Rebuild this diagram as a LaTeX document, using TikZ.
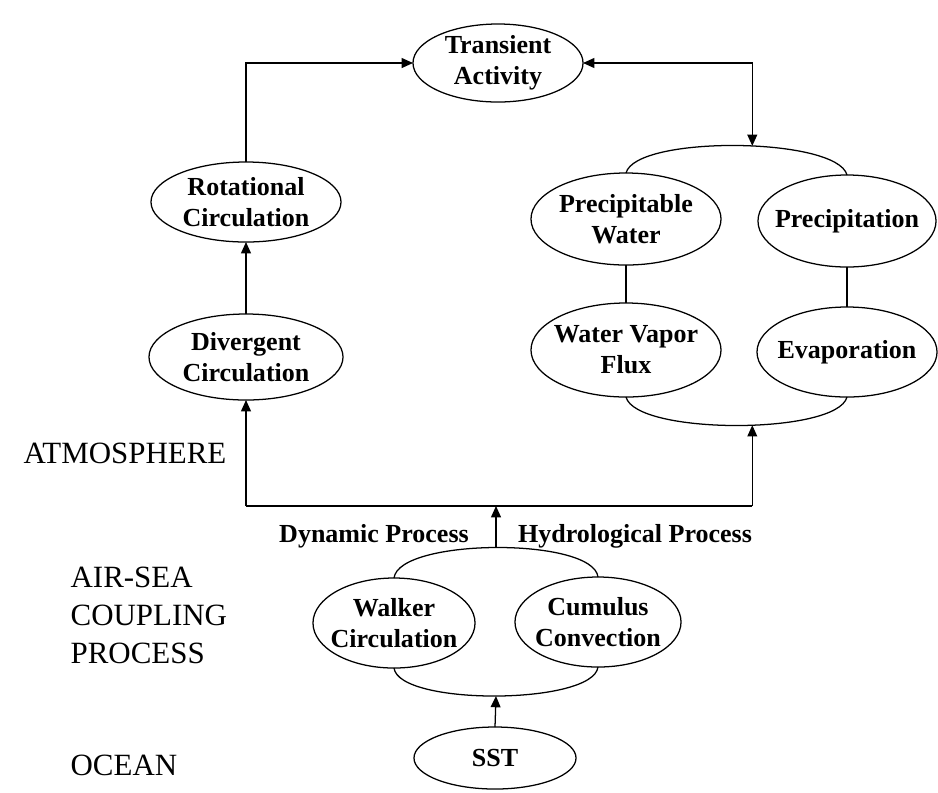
\documentclass[tikz,border=0pt]{standalone}
\usepackage{fontspec}
\setmainfont{Liberation Serif}
\usetikzlibrary{arrows.meta,shapes.geometric}

\tikzset{
  bubble/.style={ellipse, draw, line width=0.9pt, inner xsep=-20pt, inner ysep=-10pt, outer sep=0pt,
    align=center, font=\bfseries\fontsize{18.5}{22}\selectfont},
  flow/.style={line width=0.9pt, -{Triangle[length=8pt,width=7pt]}},
  twoway/.style={line width=0.9pt, {Triangle[length=8pt,width=7pt]}-{Triangle[length=8pt,width=7pt]}},
  layer/.style={inner sep=0pt, align=left, font=\fontsize{22}{27}\selectfont},
  proc/.style={inner sep=0pt, font=\bfseries\fontsize{18.5}{22}\selectfont}
}

\begin{document}
\begin{tikzpicture}[x=0.025cm, y=-0.025cm, line width=0.9pt]
            \useasboundingbox (0,0) rectangle (938,792);

            \node[bubble, minimum width=4.25cm, minimum height=1.95cm] (ta) at (498,63) {Transient\\Activity};
            \node[bubble, minimum width=4.75cm, minimum height=2cm] (rot) at (246,202) {Rotational\\Circulation};
            \node[bubble, minimum width=4.85cm, minimum height=2.15cm] (div) at (246,357) {Divergent\\Circulation};
            \node[bubble, minimum width=4.75cm, minimum height=2.3cm] (pw) at (626,219) {Precipitable\\Water};
            \node[bubble, minimum width=4.45cm, minimum height=2.3cm] (pr) at (847,221) {Precipitation};
            \node[bubble, minimum width=4.75cm, minimum height=2.35cm] (wv) at (626,350) {Water Vapor\\Flux};
            \node[bubble, minimum width=4.5cm, minimum height=2.25cm] (ev) at (847,352) {Evaporation};
            \node[bubble, minimum width=4.05cm, minimum height=2.25cm] (wk) at (394,623) {Walker\\Circulation};
            \node[bubble, minimum width=4.15cm, minimum height=2.25cm] (cu) at (598,622) {Cumulus\\Convection};
            \node[bubble, minimum width=4.05cm, minimum height=1.55cm] (sst) at (495,758) {SST};

            \node[layer, anchor=base east] (atm) at (227,463) {ATMOSPHERE};
            \node[layer, anchor=west] (asc) at (70,615) {AIR-SEA\\COUPLING\\PROCESS};
            \node[layer, anchor=base west] (ocn) at (70,775) {OCEAN};
            \node[proc, anchor=base] (dyn) at (374,542) {Dynamic Process};
            \node[proc, anchor=base] (hyd) at (635,542) {Hydrological Process};

            \draw (pw.north) .. controls +(10,-38) and +(-10,-38) .. (pr.north) coordinate[pos=0.55] (wtop);
            \draw (wv.south) .. controls +(10,38) and +(-10,38) .. (ev.south) coordinate[pos=0.55] (wbot);
            \draw (pw.south) -- (wv.north);
            \draw (pr.south) -- (ev.north);

            \draw (wk.north) .. controls +(5,-40) and +(-5,-40) .. (cu.north) coordinate[pos=0.5] (ctop);
            \draw (wk.south) .. controls +(5,38) and +(-5,38) .. (cu.south) coordinate[pos=0.5] (cbot);

            \coordinate (bus) at (495,506);

            \draw[flow] (rot.north) |- (ta.west);
            \draw[twoway] (ta.east) -| (wtop);
            \draw[flow] (div.north) -- (rot.south);
            \draw (div.south |- bus) -- (wbot |- bus);
            \draw[flow] (div.south |- bus) -- (div.south);
            \draw[flow] (wbot |- bus) -- (wbot);
            \draw[flow] (ctop) -- (ctop |- bus);
            \draw[flow] (sst.north) -- (cbot);
        \end{tikzpicture}
\end{document}
